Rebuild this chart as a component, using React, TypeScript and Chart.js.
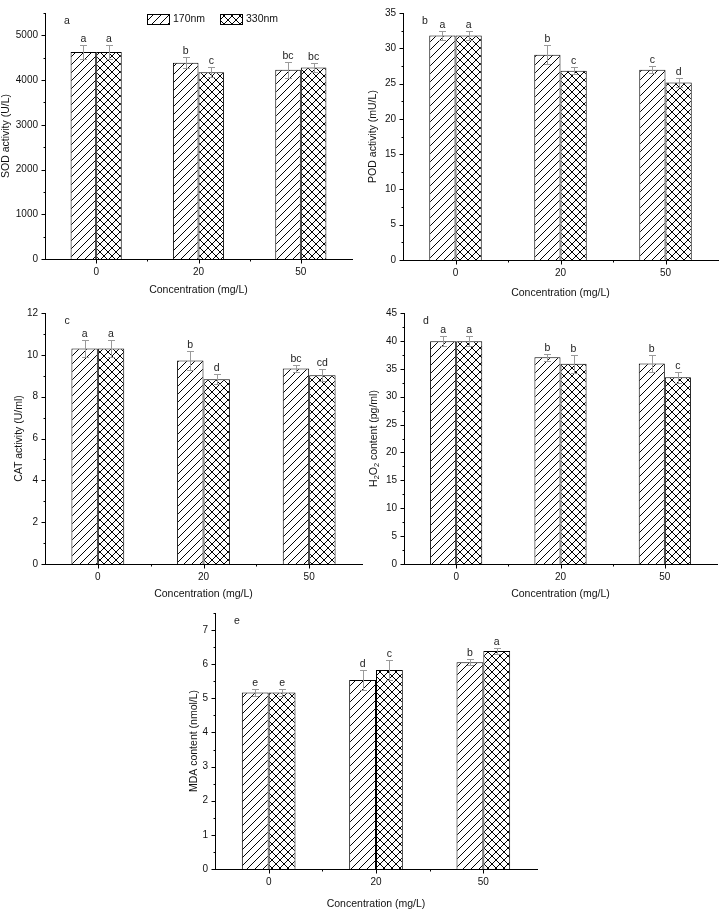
import React, { useEffect, useRef } from "react";
import { Chart, registerables } from "chart.js";

Chart.register(...registerables);

// ---------- data ----------
const categories = ["0", "20", "50"];
const seriesNames = ["170nm", "330nm"];
const xTitle = "Concentration (mg/L)";

// a: SOD
const sod170 = [4630, 4390, 4230];
const sod170Err = [160, 125, 180];
const sod330 = [4630, 4175, 4280];
const sod330Err = [160, 110, 95];
const sodLetters170 = ["a", "b", "bc"];
const sodLetters330 = ["a", "c", "bc"];
const sodTicks = [0, 1000, 2000, 3000, 4000, 5000];

// b: POD
const pod170 = [31.8, 29.1, 26.95];
const pod170Err = [0.6, 1.3, 0.5];
const pod330 = [31.8, 26.8, 25.15];
const pod330Err = [0.6, 0.5, 0.7];
const podLetters170 = ["a", "b", "c"];
const podLetters330 = ["a", "c", "d"];
const podTicks = [0, 5, 10, 15, 20, 25, 30, 35];

// c: CAT
const cat170 = [10.3, 9.73, 9.35];
const cat170Err = [0.42, 0.47, 0.15];
const cat330 = [10.3, 8.83, 9.02];
const cat330Err = [0.42, 0.24, 0.28];
const catLetters170 = ["a", "b", "bc"];
const catLetters330 = ["a", "d", "cd"];
const catTicks = [0, 2, 4, 6, 8, 10, 12];

// d: H2O2
const h2o2_170 = [39.95, 37.05, 35.95];
const h2o2_170Err = [0.95, 0.65, 1.5];
const h2o2_330 = [39.95, 35.9, 33.5];
const h2o2_330Err = [0.95, 1.65, 1.0];
const h2o2Letters170 = ["a", "b", "b"];
const h2o2Letters330 = ["a", "b", "c"];
const h2o2Ticks = [0, 5, 10, 15, 20, 25, 30, 35, 40, 45];

// e: MDA
const mda170 = [5.17, 5.54, 6.06];
const mda170Err = [0.1, 0.29, 0.09];
const mda330 = [5.17, 5.83, 6.39];
const mda330Err = [0.1, 0.29, 0.08];
const mdaLetters170 = ["e", "d", "b"];
const mdaLetters330 = ["e", "c", "a"];
const mdaTicks = [0, 1, 2, 3, 4, 5, 6, 7];

// ---------- styling ----------
const FONT = 'Arial, "Liberation Sans", Helvetica, sans-serif';
const TICK_SIZE = 10;
const TITLE_SIZE = 10.5;
const LETTER_SIZE = 10.5;
const ERR_COLOR = "#9a9a9a";

function makePattern(cross: boolean): CanvasPattern | string {
  const s = 8;
  const c = document.createElement("canvas");
  c.width = s;
  c.height = s;
  const g = c.getContext("2d");
  if (!g) return "#fff";
  g.fillStyle = "#fff";
  g.fillRect(0, 0, s, s);
  g.strokeStyle = "#000";
  g.lineWidth = 1;
  g.lineCap = "square";
  const seg = (x1: number, y1: number, x2: number, y2: number) => {
    g.beginPath();
    g.moveTo(x1, y1);
    g.lineTo(x2, y2);
    g.stroke();
  };
  seg(-1, s + 1, s + 1, -1);
  seg(-2, 2, 2, -2);
  seg(s - 2, s + 2, s + 2, s - 2);
  if (cross) {
    seg(-1, -1, s + 1, s + 1);
    seg(-2, s - 2, 2, s + 2);
    seg(s - 2, -2, s + 2, 2);
  }
  const p = g.createPattern(c, "repeat");
  return p || "#fff";
}

type PanelSpec = {
  key: string;
  letter: string;
  yTitle: string;
  subTitle?: boolean;
  v170: number[];
  e170: number[];
  v330: number[];
  e330: number[];
  l170: string[];
  l330: string[];
  ticks: number[];
  max: number;
  legend: boolean;
  // layout
  left: number;
  top: number;
  width: number;
  height: number;
  padTop: number;
  padRight: number;
  yWidth: number;
  xHeight: number;
  yTitlePad: number;
};

const panels: PanelSpec[] = [
  {
    key: "a", letter: "a", yTitle: "SOD activity (U/L)",
    v170: sod170, e170: sod170Err, v330: sod330, e330: sod330Err,
    l170: sodLetters170, l330: sodLetters330, ticks: sodTicks, max: 5500, legend: true,
    left: 0, top: 0, width: 360, height: 296, padTop: 12, padRight: 8, yWidth: 45, xHeight: 37, yTitlePad: 0,
  },
  {
    key: "b", letter: "b", yTitle: "POD activity (mU/L)",
    v170: pod170, e170: pod170Err, v330: pod330, e330: pod330Err,
    l170: podLetters170, l330: podLetters330, ticks: podTicks, max: 35, legend: false,
    left: 360, top: 0, width: 361, height: 299, padTop: 6, padRight: 3, yWidth: 43, xHeight: 39, yTitlePad: 7,
  },
  {
    key: "c", letter: "c", yTitle: "CAT activity (U/ml)",
    v170: cat170, e170: cat170Err, v330: cat330, e330: cat330Err,
    l170: catLetters170, l330: catLetters330, ticks: catTicks, max: 12, legend: false,
    left: 0, top: 300, width: 370, height: 300, padTop: 10, padRight: 8, yWidth: 45, xHeight: 36, yTitlePad: 12.5,
  },
  {
    key: "d", letter: "d", yTitle: "H2O2 content (pg/ml)", subTitle: true,
    v170: h2o2_170, e170: h2o2_170Err, v330: h2o2_330, e330: h2o2_330Err,
    l170: h2o2Letters170, l330: h2o2Letters330, ticks: h2o2Ticks, max: 45, legend: false,
    left: 360, top: 300, width: 361, height: 300, padTop: 11, padRight: 4, yWidth: 44, xHeight: 36, yTitlePad: 8,
  },
  {
    key: "e", letter: "e", yTitle: "MDA content (nmol/L)",
    v170: mda170, e170: mda170Err, v330: mda330, e330: mda330Err,
    l170: mdaLetters170, l330: mdaLetters330, ticks: mdaTicks, max: 7.5, legend: false,
    left: 180, top: 600, width: 370, height: 310, padTop: 11, padRight: 13, yWidth: 35, xHeight: 41, yTitlePad: 7.5,
  },
];

const decorPlugin = {
  id: "decor",
  afterDatasetsDraw(chart: any, _args: any, opts: any) {
    const ctx: CanvasRenderingContext2D = chart.ctx;
    const ys = chart.scales.y;
    ctx.save();

    // error bars + letters
    const errs: number[][] = opts.errors;
    const letters: string[][] = opts.letters;
    chart.data.datasets.forEach((ds: any, i: number) => {
      const meta = chart.getDatasetMeta(i);
      meta.data.forEach((el: any, j: number) => {
        const v = ds.data[j];
        const e = errs[i][j];
        const x = Math.round(el.x) + 0.5;
        const yt = Math.round(ys.getPixelForValue(v + e)) + 0.5;
        const yb = Math.round(ys.getPixelForValue(v - e)) + 0.5;
        ctx.strokeStyle = ERR_COLOR;
        ctx.lineWidth = 1;
        ctx.beginPath();
        ctx.moveTo(x, yt);
        ctx.lineTo(x, yb);
        ctx.moveTo(x - 3.5, yt);
        ctx.lineTo(x + 3.5, yt);
        ctx.moveTo(x - 3.5, yb);
        ctx.lineTo(x + 3.5, yb);
        ctx.stroke();
        ctx.fillStyle = "#222";
        ctx.font = `${LETTER_SIZE}px ${FONT}`;
        ctx.textAlign = "center";
        ctx.textBaseline = "alphabetic";
        ctx.fillText(letters[i][j], el.x, yt - 3.5);
      });
    });
    ctx.restore();
  },
  afterDraw(chart: any, _args: any, opts: any) {
    const ctx: CanvasRenderingContext2D = chart.ctx;
    const area = chart.chartArea;
    const xs = chart.scales.x;
    const ys = chart.scales.y;
    ctx.save();
    ctx.strokeStyle = "#000";
    ctx.lineWidth = 1;
    const left = Math.round(area.left) + 0.5;
    const bottom = Math.round(area.bottom) + 0.5;

    // y ticks (major at tick values, minor halfway)
    ctx.beginPath();
    const tv: number[] = opts.ticks;
    const step = tv[1] - tv[0];
    const max = ys.max;
    for (let k = 0; (k * step) / 2 <= max + 1e-9; k++) {
      const v = (k * step) / 2;
      const py = Math.round(ys.getPixelForValue(v)) + 0.5;
      const len = k % 2 === 0 ? 4 : 2;
      ctx.moveTo(left - len, py);
      ctx.lineTo(left, py);
    }
    // x ticks
    const n = chart.data.labels.length;
    for (let i = 0; i < n; i++) {
      const px = Math.round(xs.getPixelForValue(i)) + 0.5;
      ctx.moveTo(px, bottom);
      ctx.lineTo(px, bottom + 4);
      if (i < n - 1) {
        const pm = Math.round((xs.getPixelForValue(i) + xs.getPixelForValue(i + 1)) / 2) + 0.5;
        ctx.moveTo(pm, bottom);
        ctx.lineTo(pm, bottom + 2);
      }
    }
    ctx.stroke();

    // panel letter
    ctx.fillStyle = "#222";
    ctx.font = `${LETTER_SIZE}px ${FONT}`;
    ctx.textAlign = "center";
    ctx.textBaseline = "middle";
    ctx.fillText(opts.letter, area.left + 22, area.top + 8);

    // legend
    if (opts.legend) {
      const items = [
        { x: 147, text: chart.data.datasets[0].label, fill: chart.data.datasets[0].backgroundColor },
        { x: 220, text: chart.data.datasets[1].label, fill: chart.data.datasets[1].backgroundColor },
      ];
      items.forEach((it) => {
        ctx.fillStyle = it.fill;
        ctx.fillRect(it.x, 14, 22, 10);
        ctx.strokeStyle = "#000";
        ctx.strokeRect(it.x + 0.5, 14.5, 22, 10);
        ctx.fillStyle = "#111";
        ctx.font = `${TICK_SIZE + 0.5}px ${FONT}`;
        ctx.textAlign = "left";
        ctx.textBaseline = "middle";
        ctx.fillText(it.text, it.x + 26, 19.5);
      });
    }

    // custom y title with subscripts
    if (opts.subTitle) {
      const cx = opts.subTitleX;
      const cy = (area.top + area.bottom) / 2;
      const parts: { t: string; sub: boolean }[] = [
        { t: "H", sub: false },
        { t: "2", sub: true },
        { t: "O", sub: false },
        { t: "2", sub: true },
        { t: " content (pg/ml)", sub: false },
      ];
      const mainFont = `${TITLE_SIZE}px ${FONT}`;
      const subFont = `${TITLE_SIZE * 0.7}px ${FONT}`;
      let total = 0;
      parts.forEach((p) => {
        ctx.font = p.sub ? subFont : mainFont;
        total += ctx.measureText(p.t).width;
      });
      ctx.translate(cx, cy);
      ctx.rotate(-Math.PI / 2);
      ctx.fillStyle = "#111";
      ctx.textAlign = "left";
      ctx.textBaseline = "middle";
      let xx = -total / 2;
      parts.forEach((p) => {
        ctx.font = p.sub ? subFont : mainFont;
        ctx.fillText(p.t, xx, p.sub ? 3 : 0);
        xx += ctx.measureText(p.t).width;
      });
    }
    ctx.restore();
  },
};

function buildConfig(p: PanelSpec, hatch: any, cross: any): any {
  return {
    type: "bar",
    data: {
      labels: categories,
      datasets: [
        {
          label: seriesNames[0],
          data: p.v170,
          backgroundColor: hatch,
          borderColor: "#000",
          borderWidth: 1,
          categoryPercentage: 0.5,
          barPercentage: 1,
        },
        {
          label: seriesNames[1],
          data: p.v330,
          backgroundColor: cross,
          borderColor: "#000",
          borderWidth: 1,
          categoryPercentage: 0.5,
          barPercentage: 1,
        },
      ],
    },
    options: {
      responsive: false,
      animation: false,
      events: [],
      layout: { padding: { left: 0, top: p.padTop, right: p.padRight, bottom: 0 } },
      plugins: {
        legend: { display: false },
        tooltip: { enabled: false },
        decor: {
          errors: [p.e170, p.e330],
          letters: [p.l170, p.l330],
          letter: p.letter,
          legend: p.legend,
          ticks: p.ticks,
          subTitle: !!p.subTitle,
          subTitleX: 6.3 + p.yTitlePad,
        },
      },
      scales: {
        x: {
          offset: true,
          grid: { display: false, drawTicks: false, offset: true },
          border: { display: true, color: "#000", width: 1 },
          ticks: {
            color: "#111",
            font: { family: FONT, size: TICK_SIZE },
            padding: 7,
            maxRotation: 0,
            autoSkip: false,
          },
          title: {
            display: true,
            text: xTitle,
            color: "#111",
            font: { family: FONT, size: TITLE_SIZE },
            padding: 0,
          },
          afterFit: (s: any) => {
            s.height = p.xHeight;
          },
        },
        y: {
          min: 0,
          max: p.max,
          grid: { display: false, drawTicks: false },
          border: { display: true, color: "#000", width: 1 },
          afterBuildTicks: (s: any) => {
            s.ticks = p.ticks.map((v) => ({ value: v }));
          },
          ticks: {
            color: "#111",
            font: { family: FONT, size: TICK_SIZE },
            padding: 7,
            autoSkip: false,
            callback: (v: any) => String(v),
          },
          title: {
            display: !p.subTitle,
            text: p.yTitle,
            color: "#111",
            font: { family: FONT, size: TITLE_SIZE },
            padding: { top: p.yTitlePad, bottom: 0 },
          },
          afterFit: (s: any) => {
            s.width = p.yWidth;
          },
        },
      },
    },
    plugins: [decorPlugin],
  };
}

function Panel({ spec }: { spec: PanelSpec }) {
  const ref = useRef<HTMLCanvasElement | null>(null);
  useEffect(() => {
    if (!ref.current) return;
    const hatch = makePattern(false);
    const cross = makePattern(true);
    const chart = new Chart(ref.current, buildConfig(spec, hatch, cross));
    return () => chart.destroy();
  }, [spec]);
  return (
    <canvas
      ref={ref}
      width={spec.width}
      height={spec.height}
      style={{
        position: "absolute",
        left: spec.left,
        top: spec.top,
        width: spec.width,
        height: spec.height,
      }}
    />
  );
}

export default function App() {
  return (
    <div
      style={{
        position: "absolute",
        left: 0,
        top: 0,
        width: 721,
        height: 910,
        background: "#fff",
        overflow: "hidden",
      }}
    >
      {panels.map((p) => (
        <Panel key={p.key} spec={p} />
      ))}
    </div>
  );
}
